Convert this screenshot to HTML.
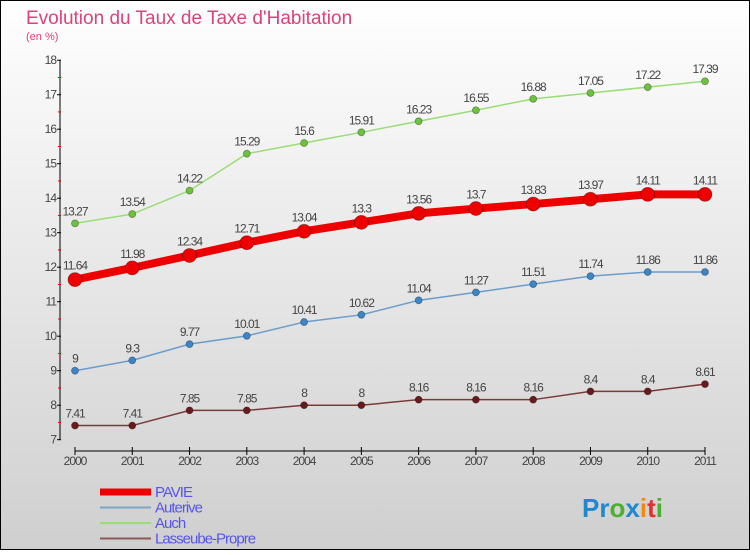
<!DOCTYPE html>
<html><head><meta charset="utf-8"><style>
html,body{margin:0;padding:0;}
body{width:750px;height:550px;overflow:hidden;font-family:"Liberation Sans",sans-serif;}
</style></head><body>
<svg id="c" width="750" height="550" xmlns="http://www.w3.org/2000/svg">
<defs><linearGradient id="bg" x1="0" y1="0" x2="0" y2="1"><stop offset="0" stop-color="#ffffff"/><stop offset="1" stop-color="#cfcfcf"/></linearGradient></defs>
<rect x="0.5" y="0.5" width="749" height="549" fill="url(#bg)" stroke="#000"/>
<text x="26" y="24" font-size="19" fill="#e0407a">Evolution du Taux de Taxe d'Habitation</text>
<text x="26" y="40" font-size="11" fill="#e0407a">(en %)</text>
<g id="axes"></g><g id="series"></g><g id="legend"></g>
<text x="582" y="517" font-size="26" font-weight="bold"><tspan fill="#1e88d0">Pr</tspan><tspan fill="#4caf30">o</tspan><tspan fill="#1e88d0">x</tspan><tspan fill="#f08a10">i</tspan><tspan fill="#e03030">t</tspan><tspan fill="#4caf30">i</tspan></text>
</svg>
<script>
const years=[2000,2001,2002,2003,2004,2005,2006,2007,2008,2009,2010,2011];
const yTicks=[7,8,9,10,11,12,13,14,15,16,17,18];
const pavie=[11.64,11.98,12.34,12.71,13.04,13.3,13.56,13.7,13.83,13.97,14.11,14.11];
const auterive=[9,9.3,9.77,10.01,10.41,10.62,11.04,11.27,11.51,11.74,11.86,11.86];
const auch=[13.27,13.54,14.22,15.29,15.6,15.91,16.23,16.55,16.88,17.05,17.22,17.39];
const lasseube=[7.41,7.41,7.85,7.85,8,8,8.16,8.16,8.16,8.4,8.4,8.61];
const NS='http://www.w3.org/2000/svg';
const X=i=>75+i*(630/11);
const Y=v=>439.7-(v-7)*34.5;
function mk(p,tag,attrs,txt){const e=document.createElementNS(NS,tag);for(const k in attrs)e.setAttribute(k,attrs[k]);if(txt!==undefined)e.textContent=txt;p.appendChild(e);return e;}
const ax=document.getElementById('axes');
let e=mk(ax,'line',{x1:60,y1:Y(18),x2:60,y2:Y(7),stroke:'#000'});


yTicks.forEach(t=>{
  mk(ax,'line',{x1:57,y1:Y(t),x2:61,y2:Y(t),stroke:'#000'});
  if(t<18) mk(ax,'line',{x1:58,y1:Y(t+0.5),x2:61,y2:Y(t+0.5),stroke:'#e00'});
  const l=mk(ax,'text',{x:56,y:Y(t)+4,'font-size':12,fill:'#444','text-anchor':'end','letter-spacing':'-1'},String(t));
  
  
});
e=mk(ax,'line',{x1:X(0),y1:451,x2:X(11),y2:451,stroke:'#000'});


years.forEach((yr,i)=>{
  mk(ax,'line',{x1:X(i),y1:447,x2:X(i),y2:455,stroke:'#000'});
  const l=mk(ax,'text',{x:X(i),y:465,'font-size':12,fill:'#444','text-anchor':'middle','letter-spacing':'-1'},String(yr));
  
  
});
const sg=document.getElementById('series');
const defs=[
 {name:'auterive',vals:auterive,color:'#6a9ccc',pt:'#3a86c8',w:1.5,r:3.5},
 {name:'auch',vals:auch,color:'#99dd77',pt:'#6cc23a',w:1.5,r:3.5},
 {name:'lasseube',vals:lasseube,color:'#7a3a3a',pt:'#6a1a1a',w:1.5,r:3.5},
 {name:'pavie',vals:pavie,color:'#ee0000',pt:'#ee0000',w:8,r:7}
];
defs.forEach(s=>{
  const g=mk(sg,'g',{});
  
  
  const ln=mk(g,'polyline',{points:s.vals.map((v,i)=>X(i)+','+Y(v)).join(' '),fill:'none',stroke:s.color,'stroke-width':s.w,'stroke-linejoin':'round'});
  
  
  s.vals.forEach((v,i)=>{
    const c=mk(g,'circle',{cx:X(i),cy:Y(v),r:s.r,fill:s.pt,stroke:'rgba(0,0,0,0.35)','stroke-width':0.8});
    
    
    const t=mk(g,'text',{x:X(i),y:Y(v)-(s.w>4?10:8),'font-size':12,fill:'#444','text-anchor':'middle','letter-spacing':'-1'},String(v));
    
    
  });
});
const lg=document.getElementById('legend');
const leg=[['PAVIE','#ee0000',7],['Auterive','#7aa6c8',2],['Auch','#99dd77',2],['Lasseube-Propre','#8a5a5a',2]];
leg.forEach((d,i)=>{
  const y=492+i*15.5;
  const g=mk(lg,'g',{});
  
  
  mk(g,'line',{x1:100,y1:y,x2:151,y2:y,stroke:d[1],'stroke-width':d[2]});
  mk(g,'text',{x:155,y:y+5,'font-size':15,fill:'#5555ee','letter-spacing':'-1'},d[0]);
});
</script>
</body></html>
